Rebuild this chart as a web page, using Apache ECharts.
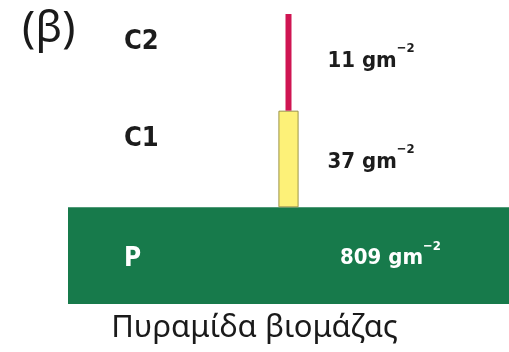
<!DOCTYPE html>
<html>
<head>
<meta charset="utf-8">
<script src="https://cdn.jsdelivr.net/npm/echarts@6/dist/echarts.min.js"></script>
<style>
html,body{margin:0;padding:0;background:#fff;}
#c{width:509px;height:352px;}
</style>
</head>
<body>
<div id="c"></div>
<script>
// Data
var levels = ['P', 'C1', 'C2'];
var biomass = [809, 37, 11];
var unitText = 'gm';
var unitExp = '−2';
var panelTitle = '(β)';
var chartTitle = 'Πυραμίδα βιομάζας';

var barColors = ['#177a4b', '#fdf178', '#cf1552'];
var barBorders = ['#177a4b', '#9c9448', '#cf1552'];
var borderWidths = [0, 1, 3];
var labelColors = ['#ffffff', '#1c1c1c', '#1c1c1c'];

var maxVal = Math.max.apply(null, biomass);
var offsets = biomass.map(function (v) { return (maxVal - v) / 2; });

var narrow = '"Liberation Sans Narrow", "DejaVu Sans Condensed", "Liberation Sans", sans-serif';

var chart = echarts.init(document.getElementById('c'), null, {renderer: 'canvas'});

var visibleData = biomass.map(function (v, i) {
  var isBase = i === 0;
  return {
    value: v,
    itemStyle: {color: barColors[i], borderColor: barBorders[i], borderWidth: borderWidths[i]},
    label: {
      show: true,
      position: isBase ? 'insideRight' : 'right',
      distance: isBase ? 68 : (i === 1 ? 29 : 36),
      color: labelColors[i],
      offset: [0, i === 2 ? -5 : -1],
      formatter: '{a|' + v + ' ' + unitText + '}{b|' + unitExp + '}',
      rich: {
        a: {fontFamily: narrow, fontWeight: 'bold', fontSize: 22, color: labelColors[i], padding: [8, 0, 0, 0]},
        b: {fontFamily: narrow, fontWeight: 'bold', fontSize: 13, color: labelColors[i], verticalAlign: 'top'}
      }
    }
  };
});

var option = {
  animation: false,
  backgroundColor: '#ffffff',
  title: [
    {text: panelTitle, left: 17, top: 2,
     textStyle: {fontFamily: '"Noto Sans", sans-serif', fontWeight: 'normal', fontSize: 44, color: '#1a1a1a'}},
    {text: chartTitle, left: 'center', top: 308,
     textStyle: {fontFamily: '"Noto Sans", sans-serif', fontWeight: 'normal', fontSize: 31, color: '#1a1a1a'}}
  ],
  grid: {left: 68, top: 14, right: 0, height: 290, containLabel: false},
  xAxis: {
    type: 'value', min: 0, max: maxVal,
    show: false
  },
  yAxis: {
    type: 'category',
    z: 10,
    data: levels,
    axisLine: {show: false},
    axisTick: {show: false},
    splitLine: {show: false},
    axisLabel: {
      inside: false,
      margin: -56,
      align: 'left',
      formatter: function (val) {
        return val === 'P' ? '{p|' + val + '}' : '{c|' + val + '}';
      },
      rich: {
        p: {fontFamily: narrow, fontWeight: 'bold', fontSize: 26, color: '#ffffff', padding: [8, 0, 0, 0]},
        c: {fontFamily: narrow, fontWeight: 'bold', fontSize: 27, color: '#1c1c1c', padding: [0, 0, 40, 0]}
      }
    }
  },
  series: [
    {
      type: 'bar', stack: 'pyr', silent: true,
      data: offsets,
      itemStyle: {color: 'rgba(0,0,0,0)'},
      barCategoryGap: '0%'
    },
    {
      type: 'bar', stack: 'pyr',
      data: visibleData,
      barCategoryGap: '0%'
    }
  ]
};
chart.setOption(option);
</script>
</body>
</html>
